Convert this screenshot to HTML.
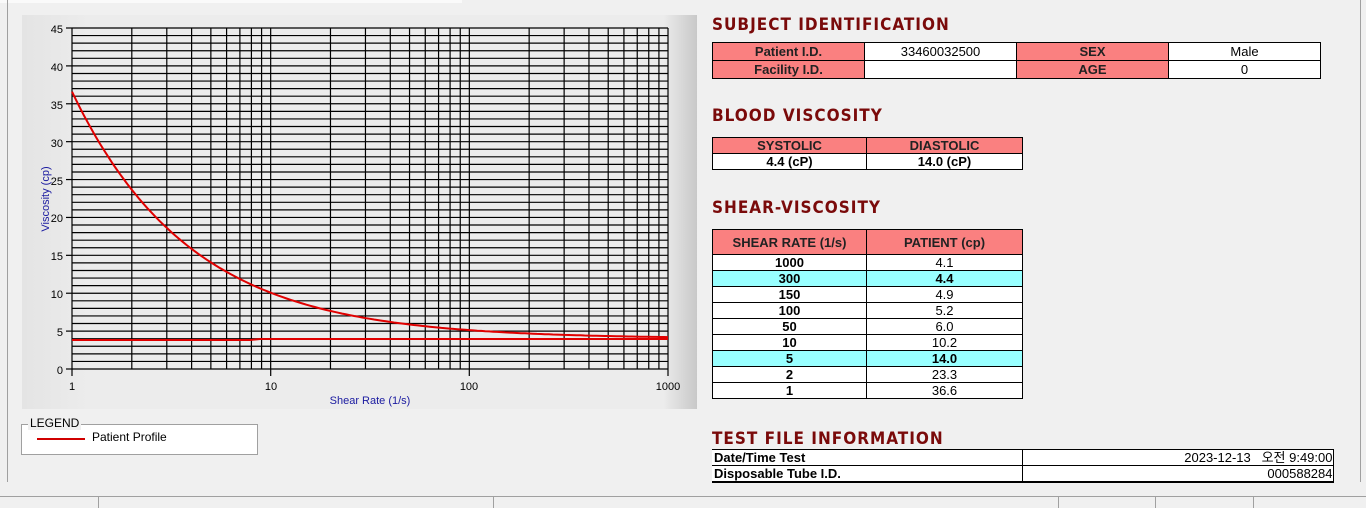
<!DOCTYPE html>
<html><head><meta charset="utf-8">
<style>
body{margin:0;width:1366px;height:508px;background:#f0f0f0;position:relative;overflow:hidden;font-family:"Liberation Sans","Noto Sans CJK KR",sans-serif}
.a{position:absolute}
h2{position:absolute;margin:0;font:bold 17px "DejaVu Sans Condensed","Liberation Sans",sans-serif;color:#7a0a0a;letter-spacing:1px}
table{position:absolute;border-collapse:collapse;font-size:13px;table-layout:fixed}
td{border:1px solid #000;padding:0;text-align:center;line-height:15px;height:17px;white-space:nowrap;overflow:hidden}
.h{background:#fa8080;font-weight:bold;color:#222}
.w{background:#fff}
.c{background:#98ffff;font-weight:bold}
.b{font-weight:bold}
</style></head><body>
<div class="a" style="left:0;top:0;width:462px;height:3px;background:#fafafa"></div>
<div class="a" style="left:7px;top:0;width:1px;height:482px;background:#a0a0a0"></div>
<div class="a" style="left:1360px;top:0;width:1px;height:482px;background:#a0a0a0"></div>
<div class="a" style="left:22px;top:15px;width:675px;height:394px;background:linear-gradient(90deg,#e4e4e4 0%,#ececec 10%,#ececec 95%,#c8c8c8 100%)"></div>
<svg class="a" style="left:0;top:0" width="700" height="420">
<g stroke="#000" stroke-width="1.2" id="g"></g>
<g font-family="Liberation Sans" font-size="11" fill="#000" text-anchor="end">
<text x="63" y="33">45</text><text x="63" y="71">40</text><text x="63" y="109">35</text><text x="63" y="147">30</text><text x="63" y="185">25</text><text x="63" y="222">20</text><text x="63" y="260">15</text><text x="63" y="298">10</text><text x="63" y="336">5</text><text x="63" y="374">0</text>
</g>
<g font-family="Liberation Sans" font-size="11" text-anchor="middle">
<text x="72" y="390">1</text><text x="271" y="390">10</text><text x="469" y="390">100</text><text x="668" y="390">1000</text>
<text x="370" y="404" fill="#1a1aa0">Shear Rate (1/s)</text>
<text transform="translate(49,199) rotate(-90)" fill="#1a1aa0">Viscosity (cp)</text>
</g>
<polyline fill="none" stroke="#e00000" stroke-width="2" points="72,340 250,340 260,339 668,339"/>
<polyline id="cv" fill="none" stroke="#e00000" stroke-width="2" points=""/>
</svg>
<script>
var g=document.getElementById('g'),s='';
for(var i=0;i<=45;i++){var y=369-i*341/45;s+='<line x1="72" x2="668" y1="'+y+'" y2="'+y+'"/>';}
for(var d=0;d<3;d++)for(var k=1;k<=10;k++){if(k==10&&d<2)continue;var x=72+198.67*(d+Math.log10(k));s+='<line x1="'+x+'" x2="'+x+'" y1="28" y2="369"/>';}
for(var i=0;i<=9;i++){var y=369-i*5*341/45;s+='<line x1="66" x2="72" y1="'+y+'" y2="'+y+'"/>';}
[72,270.7,469.3,668].forEach(function(x){s+='<line x1="'+x+'" x2="'+x+'" y1="369" y2="376"/>';});
g.innerHTML=s;
var p=[];for(var i=0;i<=150;i++){var lx=i*3/150,xv=Math.pow(10,lx),v=4.0+32.6*Math.pow(xv,-0.73);p.push((72+198.67*lx).toFixed(1)+','+(369-v*341/45).toFixed(1));}
document.getElementById('cv').setAttribute('points',p.join(' '));
</script>
<div class="a" style="left:21px;top:424px;width:235px;height:29px;border:1px solid #a0a0a0;background:#fff"></div>
<div class="a" style="left:28px;top:416px;background:#f0f0f0;font-size:12px;padding:0 2px">LEGEND</div>
<div class="a" style="left:37px;top:438px;width:48px;height:2px;background:#d00000"></div>
<div class="a" style="left:92px;top:430px;font-size:12px">Patient Profile</div>

<h2 style="left:712px;top:15px">SUBJECT IDENTIFICATION</h2>
<table style="left:712px;top:42px;width:608px">
<col style="width:152px"><col style="width:152px"><col style="width:152px"><col style="width:152px">
<tr><td class="h">Patient I.D.</td><td class="w">33460032500</td><td class="h">SEX</td><td class="w">Male</td></tr>
<tr><td class="h">Facility I.D.</td><td class="w"></td><td class="h">AGE</td><td class="w">0</td></tr>
</table>
<h2 style="left:712px;top:106px">BLOOD VISCOSITY</h2>
<table style="left:712px;top:137px;width:310px">
<col style="width:154px"><col style="width:156px">
<tr><td class="h" style="height:14px">SYSTOLIC</td><td class="h" style="height:14px">DIASTOLIC</td></tr>
<tr><td class="w b" style="height:14px">4.4 (cP)</td><td class="w b" style="height:14px">14.0 (cP)</td></tr>
</table>
<h2 style="left:712px;top:198px">SHEAR-VISCOSITY</h2>
<table style="left:712px;top:229px;width:310px">
<col style="width:154px"><col style="width:156px">
<tr><td class="h" style="height:24px">SHEAR RATE (1/s)</td><td class="h" style="height:24px">PATIENT (cp)</td></tr>
<tr><td class="w b" style="height:15px">1000</td><td class="w" style="height:15px">4.1</td></tr>
<tr><td class="c" style="height:15px">300</td><td class="c" style="height:15px">4.4</td></tr>
<tr><td class="w b" style="height:15px">150</td><td class="w" style="height:15px">4.9</td></tr>
<tr><td class="w b" style="height:15px">100</td><td class="w" style="height:15px">5.2</td></tr>
<tr><td class="w b" style="height:15px">50</td><td class="w" style="height:15px">6.0</td></tr>
<tr><td class="w b" style="height:15px">10</td><td class="w" style="height:15px">10.2</td></tr>
<tr><td class="c" style="height:15px">5</td><td class="c" style="height:15px">14.0</td></tr>
<tr><td class="w b" style="height:15px">2</td><td class="w" style="height:15px">23.3</td></tr>
<tr><td class="w b" style="height:15px">1</td><td class="w" style="height:15px">36.6</td></tr>
</table>
<h2 style="left:712px;top:429px">TEST FILE INFORMATION</h2>
<table style="left:712px;top:449px;width:621px;border-bottom:2px solid #000">
<col style="width:310px"><col style="width:311px">
<tr><td class="w b" style="height:15px;text-align:left;padding-left:2px;border-left:none">Date/Time Test</td><td class="w" style="height:15px;text-align:right">2023-12-13 &nbsp; 오전 9:49:00</td></tr>
<tr><td class="w b" style="height:15px;text-align:left;padding-left:2px;border-left:none">Disposable Tube I.D.</td><td class="w" style="height:15px;text-align:right">000588284</td></tr>
</table>

<div class="a" style="left:0;top:496px;width:1366px;height:1px;background:#a0a0a0"></div>
<div class="a" style="left:0;top:497px;width:1366px;height:11px;background:#f0f0f0"></div>
<div class="a" style="left:98px;top:496px;width:1px;height:12px;background:#a0a0a0"></div>
<div class="a" style="left:493px;top:496px;width:1px;height:12px;background:#a0a0a0"></div>
<div class="a" style="left:1058px;top:496px;width:1px;height:12px;background:#a0a0a0"></div>
<div class="a" style="left:1155px;top:496px;width:1px;height:12px;background:#a0a0a0"></div>
<div class="a" style="left:1253px;top:496px;width:1px;height:12px;background:#a0a0a0"></div>
</body></html>
